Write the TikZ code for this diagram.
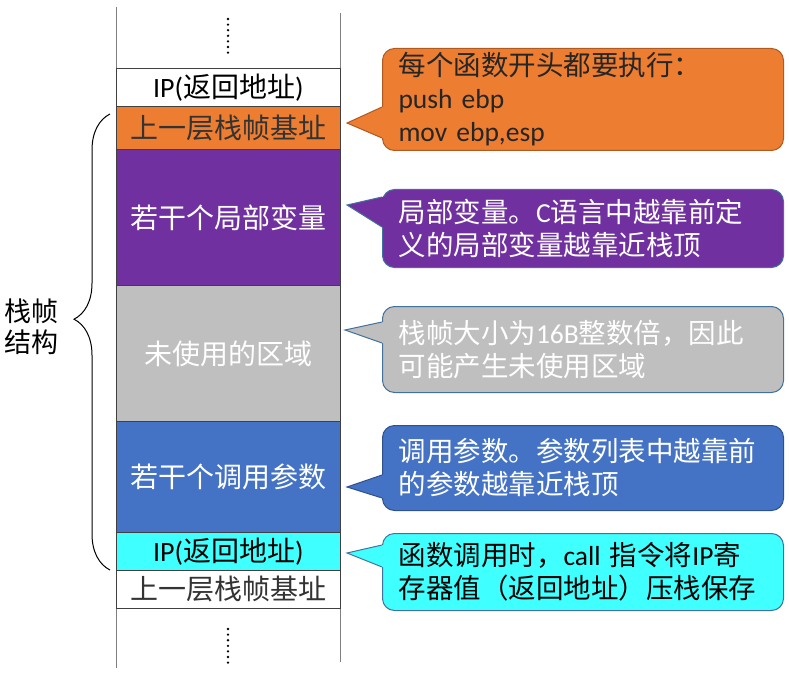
\documentclass[tikz,border=0pt]{standalone}
\usepackage{fontspec}
\setmainfont{Noto Sans CJK SC}
\newfontfamily\lat{Carlito}
\usetikzlibrary{calc,decorations.pathreplacing}

\definecolor{fOrange}{HTML}{ED7D31}
\definecolor{fPurple}{HTML}{7030A0}
\definecolor{fGray}{HTML}{BFBFBF}
\definecolor{fBlue}{HTML}{4472C4}
\definecolor{fCyan}{HTML}{3FFFFF}
\definecolor{lnOrange}{HTML}{AE5A21}
\definecolor{lnBlue}{HTML}{41719C}
\definecolor{lnDark}{HTML}{2F528F}

\begin{document}
\begin{tikzpicture}[x=1pt,y=-1pt,
  cell/.style={draw=black!75, line width=0.8pt, anchor=north west, minimum width=224pt,
    inner sep=0pt, font=\fontsize{28}{32}\selectfont},
  bubble/.style={draw=#1, line width=1pt, rounded corners=12pt, anchor=north west,
    minimum width=401pt, text width=369pt, inner xsep=16pt, inner ysep=0pt, align=left,
    font=\fontsize{27.5}{33}\selectfont},
  tailline/.style={draw=#1, line width=1pt, line join=miter}
]
\useasboundingbox (0,0) rectangle (789,676);

% the stack
\draw [gray, line width=0.8pt] (116,7) -- (116,668);
\draw [gray, line width=0.8pt] (340,13) -- (340,662);
\foreach \i in {0,...,6} \fill (228,19+\i*5.6) circle (1.3);
\foreach \i in {0,...,6} \fill (228,629+\i*5.6) circle (1.3);

\node [cell, minimum height=38pt, fill=white] (ip1) at (116,68) {{\lat IP(}返回地址{\lat )}};
\node [cell, minimum height=43pt, fill=fOrange, text=black!80] (ebp1) at (116,106) {上一层栈帧基址};
\node [cell, minimum height=136pt, fill=fPurple, text=white] (loc) at (116,149) {若干个局部变量};
\node [cell, minimum height=136pt, fill=fGray, text=white] (unused) at (116,285) {未使用的区域};
\node [cell, minimum height=111pt, fill=fBlue, text=white] (args) at (116,421) {若干个调用参数};
\node [cell, minimum height=38pt, fill=fCyan] (ip2) at (116,532) {{\lat IP(}返回地址{\lat )}};
\node [cell, minimum height=38pt, fill=white, text=black!80] (ebp2) at (116,570) {上一层栈帧基址};

% brace
\coordinate (bb) at (110,570);
\coordinate (bt) at (110,114);
\draw [line width=1pt, decorate, decoration={brace, amplitude=36pt, aspect=0.55}] (bb) -- (bt);
\node [font=\fontsize{27}{31}\selectfont, align=center, inner sep=0pt] (frame) at (32,327) {栈帧\\结构};

% callouts
\node [bubble=lnOrange, fill=fOrange, minimum height=102pt, text=black!85] (c1) at (382,48)
  {每个函数开头都要执行：\\{\lat push ebp}\\{\lat mov ebp,esp}};
\coordinate (t1) at (347,123);
\fill [fOrange] ($(c1.north west)+(0,59)$) -- (t1) -- ($(c1.north west)+(0,90)$) -- ++(3,0) -- ++(0,-31) -- cycle;
\draw [tailline=lnOrange] ($(c1.north west)+(0,59)$) -- (t1) -- ($(c1.north west)+(0,90)$);

\node [bubble=lnBlue, fill=fPurple, minimum height=78pt, text=white] (c2) at (382,189)
  {局部变量。{\lat C}语言中越靠前定\\义的局部变量越靠近栈顶};
\coordinate (t2) at (347,205);
\fill [fPurple] ($(c2.north west)+(0,8)$) -- (t2) -- ($(c2.north west)+(0,38)$) -- ++(3,0) -- ++(0,-30) -- cycle;
\draw [tailline=lnBlue] ($(c2.north west)+(0,8)$) -- (t2) -- ($(c2.north west)+(0,38)$);

\node [bubble=lnBlue, fill=fGray, minimum height=86pt, text=white] (c3) at (382,306)
  {栈帧大小为{\lat 16B}整数倍，因此\\可能产生未使用区域};
\coordinate (t3) at (345,330);
\fill [fGray] ($(c3.north west)+(0,16)$) -- (t3) -- ($(c3.north west)+(0,37)$) -- ++(3,0) -- ++(0,-21) -- cycle;
\draw [tailline=lnBlue] ($(c3.north west)+(0,16)$) -- (t3) -- ($(c3.north west)+(0,37)$);

\node [bubble=lnDark, fill=fBlue, minimum height=85pt, text=white] (c4) at (382,425)
  {调用参数。参数列表中越靠前\\的参数越靠近栈顶};
\coordinate (t4) at (347,487);
\fill [fBlue] ($(c4.north west)+(0,50)$) -- (t4) -- ($(c4.north west)+(0,73)$) -- ++(3,0) -- ++(0,-23) -- cycle;
\draw [tailline=lnDark] ($(c4.north west)+(0,50)$) -- (t4) -- ($(c4.north west)+(0,73)$);

\node [bubble=lnBlue, fill=fCyan, minimum height=77pt, text=black] (c5) at (382,533)
  {函数调用时，{\lat call} 指令将{\lat IP}寄\\存器值（返回地址）压栈保存};
\coordinate (t5) at (347,553);
\fill [fCyan] ($(c5.north west)+(0,12)$) -- (t5) -- ($(c5.north west)+(0,34)$) -- ++(3,0) -- ++(0,-22) -- cycle;
\draw [tailline=lnBlue] ($(c5.north west)+(0,12)$) -- (t5) -- ($(c5.north west)+(0,34)$);
\end{tikzpicture}
\end{document}
